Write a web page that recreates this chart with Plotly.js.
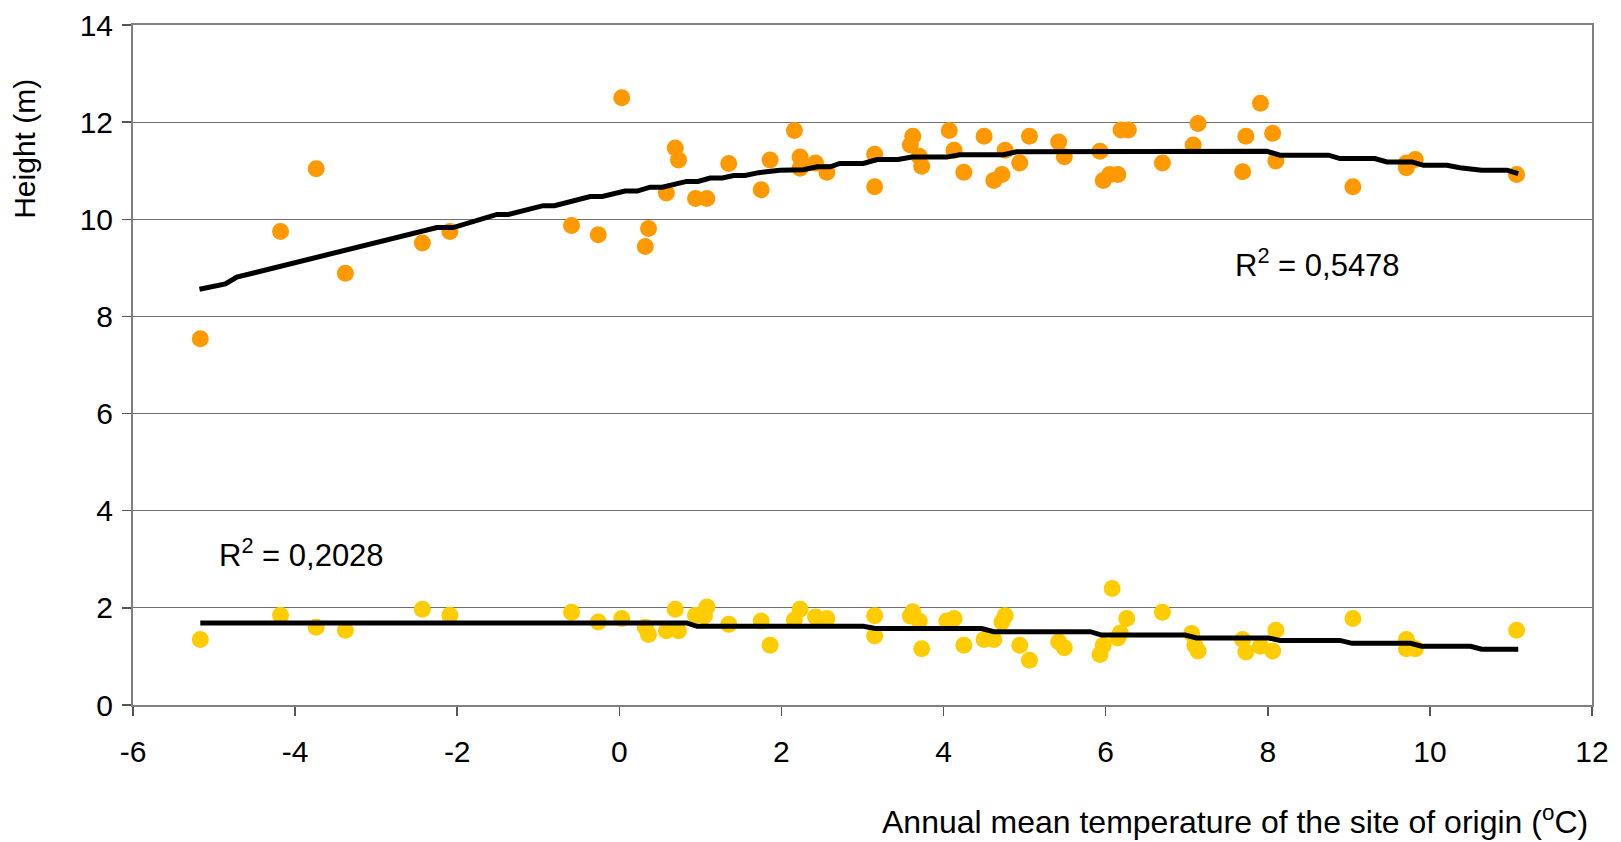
<!DOCTYPE html>
<html>
<head>
<meta charset="utf-8">
<script src="https://cdn.plot.ly/plotly-3.0.1.min.js"></script>
<style>html,body{margin:0;padding:0;background:#fff;}#chart{width:1621px;height:842px;}</style>
</head>
<body>
<div id="chart"></div>
<script>
// Tall series (orange)
var tallX = [-5.17,-4.18,-3.74,-3.38,-2.43,-2.09,-0.59,-0.26,0.03,0.32,0.36,0.58,0.69,0.73,0.94,1.08,1.35,1.75,1.86,2.16,2.23,2.23,2.42,2.56,3.15,3.15,3.59,3.62,3.70,3.73,4.07,4.13,4.25,4.50,4.62,4.72,4.76,4.94,5.06,5.42,5.49,5.93,5.97,6.05,6.15,6.19,6.28,6.70,7.08,7.14,7.69,7.73,7.91,8.06,8.10,9.05,9.71,9.71,9.82,11.07];
var tallY = [7.54,9.75,11.04,8.89,9.51,9.75,9.87,9.68,12.50,9.44,9.81,10.54,11.47,11.22,10.43,10.43,11.15,10.61,11.22,11.83,11.28,11.05,11.16,10.97,11.34,10.67,11.53,11.71,11.30,11.09,11.83,11.42,10.97,11.71,10.80,10.92,11.42,11.16,11.71,11.59,11.29,11.40,10.80,10.92,10.92,11.84,11.84,11.16,11.53,11.97,10.98,11.71,12.39,11.77,11.20,10.67,11.06,11.16,11.23,10.92];

// Short series (yellow)
var shortX = [-5.17,-4.18,-3.74,-3.38,-2.43,-2.09,-0.59,-0.26,0.03,0.32,0.36,0.58,0.69,0.73,0.94,1.05,1.08,1.35,1.75,1.86,2.16,2.23,2.42,2.56,3.15,3.15,3.59,3.62,3.70,3.73,4.04,4.13,4.25,4.50,4.62,4.72,4.76,4.94,5.06,5.42,5.49,5.93,5.97,6.08,6.15,6.18,6.26,6.70,7.06,7.10,7.14,7.69,7.73,7.91,8.06,8.10,9.05,9.71,9.71,9.82,11.07];
var shortY = [1.35,1.85,1.60,1.54,1.97,1.85,1.91,1.71,1.78,1.60,1.45,1.53,1.97,1.53,1.85,1.83,2.02,1.66,1.73,1.23,1.75,1.97,1.81,1.78,1.84,1.42,1.83,1.92,1.73,1.16,1.73,1.78,1.23,1.35,1.35,1.71,1.84,1.23,0.92,1.30,1.18,1.04,1.23,2.40,1.38,1.48,1.78,1.91,1.47,1.23,1.11,1.35,1.09,1.21,1.11,1.54,1.78,1.35,1.16,1.16,1.54];

// Trend lines
var trendTallX = [-5.18,-4.86,-4.72,-3.83,-2.83,-2.25,-2.05,-1.51,-1.37,-0.94,-0.80,-0.36,-0.21,0.07,0.22,0.38,0.53,0.83,0.97,1.12,1.27,1.41,1.55,1.72,1.98,2.27,2.44,2.60,2.72,3.01,3.18,3.44,3.61,4.04,4.20,4.74,4.90,7.99,8.15,8.75,8.89,9.32,9.47,9.78,9.92,10.21,10.37,10.64,10.95,11.09];
var trendTallY = [8.56,8.67,8.81,9.17,9.58,9.83,9.83,10.10,10.10,10.28,10.28,10.47,10.47,10.58,10.58,10.66,10.66,10.78,10.78,10.85,10.85,10.90,10.90,10.96,11.01,11.02,11.08,11.08,11.15,11.15,11.23,11.23,11.28,11.28,11.33,11.33,11.39,11.40,11.32,11.32,11.25,11.25,11.18,11.18,11.11,11.11,11.06,11.01,11.01,10.94];
var trendShortX = [-5.17,0.83,0.96,3.01,3.16,4.47,4.62,5.81,5.95,6.98,7.12,8.01,8.15,8.89,9.04,9.76,9.90,10.50,10.64,11.09];
var trendShortY = [1.69,1.69,1.62,1.62,1.575,1.575,1.51,1.51,1.44,1.44,1.38,1.38,1.33,1.33,1.27,1.27,1.21,1.21,1.15,1.15];

var r2Labels = ['R<sup>2</sup> = 0,5478', 'R<sup>2</sup> = 0,2028'];
var xTitle = 'Annual mean temperature of the site of origin (<sup>o</sup>C)';
var yTitle = 'Height (m)';

var FONT = 'Liberation Sans, Arial, Helvetica, sans-serif';

var traces = [
  {x: tallX, y: tallY, mode: 'markers', type: 'scatter', marker: {color: '#FF9900', size: 17}, hoverinfo: 'skip'},
  {x: shortX, y: shortY, mode: 'markers', type: 'scatter', marker: {color: '#FFCC00', size: 17}, hoverinfo: 'skip'},
  {x: trendTallX, y: trendTallY, mode: 'lines', type: 'scatter', line: {color: '#000', width: 5}, hoverinfo: 'skip'},
  {x: trendShortX, y: trendShortY, mode: 'lines', type: 'scatter', line: {color: '#000', width: 5}, hoverinfo: 'skip'}
];

var layout = {
  width: 1621, height: 842,
  margin: {l: 133, r: 29, t: 25, b: 137},
  paper_bgcolor: '#fff', plot_bgcolor: '#fff',
  showlegend: false,
  font: {family: FONT, size: 30, color: '#000'},
  xaxis: {
    range: [-6, 12], tickvals: [-6,-4,-2,0,2,4,6,8,10,12], ticktext: ['-6','-4','-2','0','2','4','6','8','10','12'],
    showgrid: false, zeroline: false, showline: true, linecolor: '#808080', linewidth: 2, mirror: true,
    ticks: 'outside', ticklen: 9, tickcolor: '#555', tickwidth: 1.5, ticklabelstandoff: 10,
    tickfont: {family: FONT, size: 30, color: '#000'}, fixedrange: true
  },
  yaxis: {
    range: [0, 14], tickvals: [0,2,4,6,8,10,12,14], ticktext: ['0','2','4','6','8','10','12','14'],
    showgrid: true, gridcolor: '#707070', gridwidth: 1.2, zeroline: false,
    showline: true, linecolor: '#808080', linewidth: 2, mirror: true,
    ticks: 'outside', ticklen: 9, tickcolor: '#555', tickwidth: 1.5, ticklabelstandoff: 3,
    tickfont: {family: FONT, size: 30, color: '#000'}, fixedrange: true
  },
  annotations: [
    {x: 7.57, y: 9.09, xref: 'x', yref: 'y', xanchor: 'left', yanchor: 'middle', text: r2Labels[0], showarrow: false, font: {family: FONT, size: 31, color: '#000'}},
    {x: -4.96, y: 3.13, xref: 'x', yref: 'y', xanchor: 'left', yanchor: 'middle', text: r2Labels[1], showarrow: false, font: {family: FONT, size: 31, color: '#000'}},
    {x: 0.9986, y: -0.169, xref: 'paper', yref: 'paper', xanchor: 'right', yanchor: 'middle', text: xTitle, showarrow: false, font: {family: FONT, size: 32, color: '#000'}},
    {x: -0.074, y: 0.818, xref: 'paper', yref: 'paper', xanchor: 'center', yanchor: 'middle', textangle: -90, text: yTitle, showarrow: false, font: {family: FONT, size: 30, color: '#000'}}
  ]
};

Plotly.newPlot('chart', traces, layout, {displayModeBar: false, staticPlot: true});
</script>
</body>
</html>
